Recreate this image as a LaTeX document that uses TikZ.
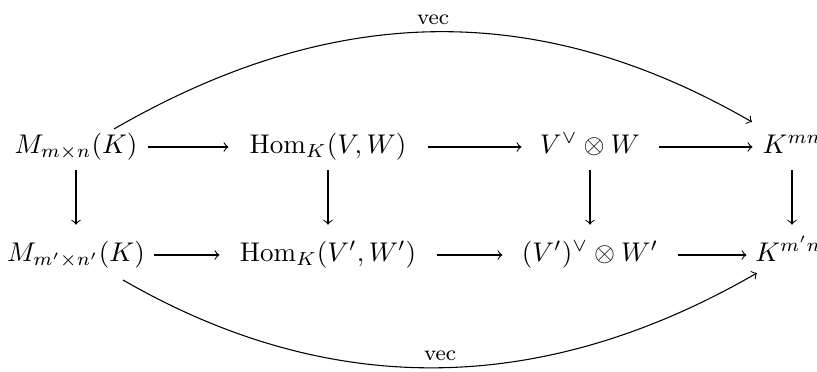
\documentclass[tikz,border=0pt]{standalone}
\usetikzlibrary{calc}
\begin{document}
\begin{tikzpicture}[x=0.37pt,y=0.37pt,
  obj/.style={inner xsep=0pt, inner ysep=3pt, text height=8pt, text depth=3pt, anchor=center},
  mw/.style={minimum width=#1*0.37pt},
  bot/.style={inner ysep=5.5pt},
  arr/.style={->, line width=0.4pt},
  lab/.style={font=\footnotesize, inner sep=2.5pt}]
\useasboundingbox (0,0) rectangle (817,372);
% top row (axis at y=225)
\node[obj,mw=142] (a) at (76,225) {$M_{m\times n}(K)$};
\node[obj,mw=198] (b) at (328,225) {$\mathrm{Hom}_K(V,W)$};
\node[obj,mw=136] (c) at (590,225) {$V^\vee\otimes W$};
\node[obj,mw=78]  (d) at (792,225) {$K^{mn}$};
% bottom row (axis at y=117)
\node[obj,bot,mw=154] (e) at (76,117) {$M_{m'\times n'}(K)$};
\node[obj,bot,mw=216] (f) at (328,117) {$\mathrm{Hom}_K(V',W')$};
\node[obj,bot,mw=174] (g) at (590,117) {$(V')^\vee\otimes W'$};
\node[obj,bot,mw=90]  (h) at (792,117) {$K^{m'n'}$};
% horizontal arrows
\draw[arr] (a) -- (b);
\draw[arr] (b) -- (c);
\draw[arr] (c) -- (d);
\draw[arr] (e) -- (f);
\draw[arr] (f) -- (g);
\draw[arr] (g) -- (h);
% vertical arrows
\draw[arr] (a) -- (e);
\draw[arr] (b) -- (f);
\draw[arr] (c) -- (g);
\draw[arr] (d) -- (h);
% curved arrows
\draw[arr] ($(a)+(38,18)$) to[out=30,in=150,looseness=1.0]
  node[lab,above] (v1) {vec} ($(d)+(-40,25)$);
\draw[arr] ($(e)+(47,-25)$) to[out=-30,in=-150,looseness=0.98]
  node[lab,above] (v2) {vec} ($(h)+(-35,-18)$);
\end{tikzpicture}
\end{document}
